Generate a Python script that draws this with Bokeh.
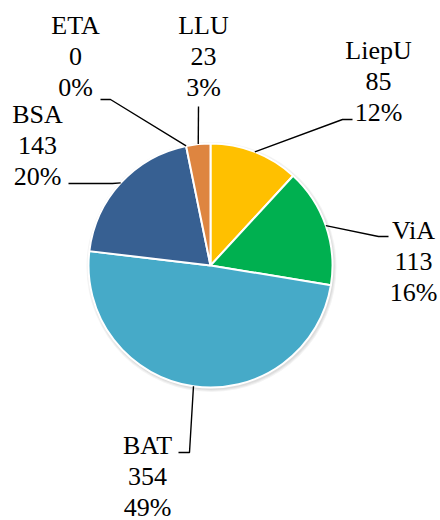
import math
from bokeh.plotting import figure
from bokeh.models import Range1d, ColumnDataSource
from bokeh.core.properties import value
from bokeh.embed import file_html
from bokeh.resources import INLINE

# ---- data ----
names = ["LiepU", "ViA", "BAT", "BSA", "ETA", "LLU"]
values = [85, 113, 354, 143, 0, 23]
colors = ["#FFC000", "#00B050", "#46AAC8", "#376092", "#A5A5A5", "#DE8540"]

# ---- layout (pixel positions in a 440x520 frame) ----
CX, CY, R = 210, 265, 122
label_pos = {  # center of middle line
    "LiepU": (378, 81), "ViA": (413, 261), "BAT": (147, 476),
    "BSA": (37, 145), "ETA": (75, 56), "LLU": (203, 56),
}
leader_pts = {  # outer end and elbow of leader line
    "LiepU": [(352, 119), (342, 119)],
    "ViA": [(388, 236), (378, 236)],
    "BAT": [(178, 452), (189, 452)],
    "BSA": [(68, 183), (112, 183)],
    "ETA": [(100, 99), (110, 99)],
    "LLU": [(198, 106)],
}
LINE_H = 31

W, H = 440, 520
p = figure(width=W, height=H, output_backend="svg", toolbar_location=None,
           x_range=Range1d(0, W), y_range=Range1d(H, 0),
           min_border=0, background_fill_color="white", border_fill_color="white")
p.axis.visible = False
p.grid.visible = False
p.outline_line_color = None

# soft shadow (light grey rings)
for k, col in enumerate(["#F4F4F4", "#E8E8E8", "#DCDCDC"]):
    p.wedge(x=CX + 1, y=CY + 1.5, radius=R + 3 - k, start_angle=0, end_angle=2 * math.pi,
            fill_color=col, line_color=None)

total = sum(values)
cum = 0.0
mids = {}
wedge = dict(start=[], end=[], color=[])
for n, v, c in zip(names, values, colors):
    a0 = math.pi / 2 - 2 * math.pi * cum / total
    cum += v
    a1 = math.pi / 2 - 2 * math.pi * cum / total
    mids[n] = (a0 + a1) / 2
    if v > 0:
        wedge["start"].append(a0)
        wedge["end"].append(a1)
        wedge["color"].append(c)
p.wedge(x=CX, y=CY, radius=R, start_angle="start", end_angle="end", direction="clock",
        fill_color="color", line_color="white", line_width=2, source=ColumnDataSource(wedge))

lx_s, ly_s = [], []
for n, v in zip(names, values):
    pts = list(leader_pts[n])
    ang = mids[n]
    pts.append((CX + R * math.cos(ang), CY - R * math.sin(ang)))
    lx_s.append([q[0] for q in pts])
    ly_s.append([q[1] for q in pts])
p.multi_line(lx_s, ly_s, line_color="black", line_width=1.4)

tx, ty, tt = [], [], []
for n, v in zip(names, values):
    pct = f"{round(v / total * 100)}%"
    lx, ly = label_pos[n]
    for i, t in enumerate([n, str(v), pct]):
        tx.append(lx)
        ty.append(ly + (i - 1) * LINE_H)
        tt.append(t)
p.text(x="x", y="y", text="t", source=ColumnDataSource(dict(x=tx, y=ty, t=tt)),
       text_font=value("Liberation Serif"), text_font_size="26px",
       text_align="center", text_baseline="middle", text_color="black")

open("out.html", "w").write(file_html(p, INLINE))
